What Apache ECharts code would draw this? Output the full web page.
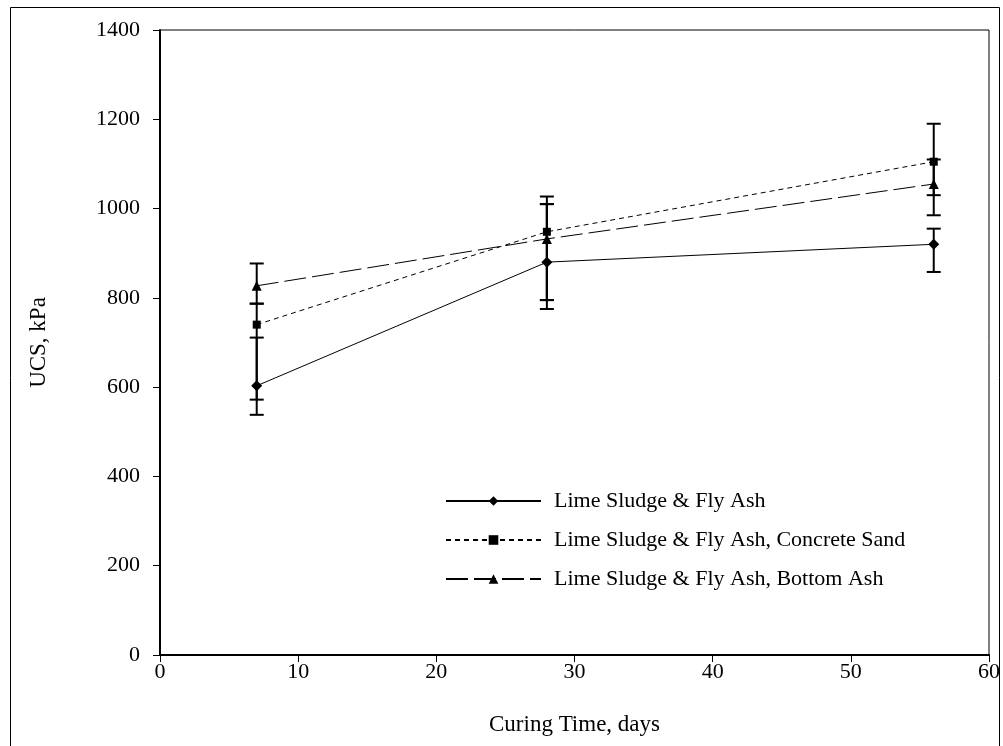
<!DOCTYPE html>
<html>
<head>
<meta charset="utf-8">
<script src="https://cdn.jsdelivr.net/npm/echarts@6/dist/echarts.min.js"></script>
<style>
html,body{margin:0;padding:0;background:#fff;}
#c{width:1003px;height:746px;}
</style>
</head>
<body>
<div id="c"></div>
<script>
// ---- data ----
var curingDays = [7, 28, 56];
var seriesNames = [
  'Lime Sludge & Fly Ash',
  'Lime Sludge & Fly Ash, Concrete Sand',
  'Lime Sludge & Fly Ash, Bottom Ash'
];
var ucsFlyAsh      = [603, 880, 920];
var ucsConcrete    = [740, 948, 1105];
var ucsBottomAsh   = [827, 932, 1055];
// error bar ranges [low, high]
var errFlyAsh      = [[538, 711], [775, 1010], [858, 955]];
var errConcrete    = [[572, 787], [795, 1027], [1030, 1190]];
var errBottomAsh   = [[787, 877], [795, 1010], [985, 1110]];
var yTicks = {min: 0, max: 1400, interval: 200};
var xTicks = {min: 0, max: 60, interval: 10};

function pairs(xs, ys) { return xs.map(function (x, i) { return [x, ys[i]]; }); }
function errData(xs, e) { return xs.map(function (x, i) { return [x, e[i][0], e[i][1]]; }); }

var FONT = '"Liberation Serif", "Times New Roman", serif';

function errSeries(name, data) {
  return {
    type: 'custom',
    name: name + ' err',
    data: data,
    z: 1,
    silent: true,
    renderItem: function (params, api) {
      var x = api.value(0);
      var lo = api.coord([x, api.value(1)]);
      var hi = api.coord([x, api.value(2)]);
      var w = 7;
      var st = {stroke: '#000', lineWidth: 2};
      return {
        type: 'group',
        children: [
          {type: 'line', shape: {x1: lo[0], y1: lo[1], x2: hi[0], y2: hi[1]}, style: st},
          {type: 'line', shape: {x1: lo[0] - w, y1: lo[1], x2: lo[0] + w, y2: lo[1]}, style: st},
          {type: 'line', shape: {x1: hi[0] - w, y1: hi[1], x2: hi[0] + w, y2: hi[1]}, style: st}
        ]
      };
    }
  };
}

var chart = echarts.init(document.getElementById('c'), null, {renderer: 'canvas'});
chart.setOption({
  backgroundColor: '#fff',
  animation: false,
  textStyle: {fontFamily: FONT, color: '#000'},
  graphic: [{
    type: 'rect',
    shape: {x: 10.5, y: 7.5, width: 989, height: 760},
    style: {fill: 'none', stroke: '#000', lineWidth: 1},
    silent: true
  }],
  grid: {
    left: 160, top: 30, right: 14, bottom: 91,
    show: true, borderColor: '#000', borderWidth: 1, backgroundColor: 'transparent'
  },
  legend: {
    orient: 'vertical',
    left: 440, top: 485,
    itemWidth: 95, itemHeight: 12, itemGap: 17,
    textStyle: {fontFamily: FONT, fontSize: 22, color: '#000', padding: [0, 0, 0, 8]},
    data: seriesNames
  },
  xAxis: {
    type: 'value', min: xTicks.min, max: xTicks.max, interval: xTicks.interval,
    name: 'Curing Time, days', nameLocation: 'middle', nameGap: 58,
    nameTextStyle: {fontFamily: FONT, fontSize: 23, color: '#000'},
    axisLine: {lineStyle: {color: '#000', width: 2}},
    axisTick: {show: true, length: 7, lineStyle: {color: '#000', width: 1}},
    axisLabel: {fontFamily: FONT, fontSize: 22, color: '#000', margin: 6},
    splitLine: {show: false}
  },
  yAxis: {
    type: 'value', min: yTicks.min, max: yTicks.max, interval: yTicks.interval,
    name: 'UCS, kPa', nameLocation: 'middle', nameGap: 110, nameRotate: 90,
    nameTextStyle: {fontFamily: FONT, fontSize: 23, color: '#000'},
    axisLine: {show: true, lineStyle: {color: '#000', width: 2}},
    axisTick: {show: true, length: 7, lineStyle: {color: '#000', width: 1}},
    axisLabel: {fontFamily: FONT, fontSize: 22, color: '#000', margin: 20,
      formatter: function (v) { return String(v); }},
    splitLine: {show: false}
  },
  series: [
    errSeries(seriesNames[0], errData(curingDays, errFlyAsh)),
    errSeries(seriesNames[1], errData(curingDays, errConcrete)),
    errSeries(seriesNames[2], errData(curingDays, errBottomAsh)),
    {
      type: 'line', name: seriesNames[0], data: pairs(curingDays, ucsFlyAsh),
      symbol: 'diamond', symbolSize: 11, z: 3,
      itemStyle: {color: '#000'},
      lineStyle: {color: '#000', width: 1, type: 'solid'}
    },
    {
      type: 'line', name: seriesNames[1], data: pairs(curingDays, ucsConcrete),
      symbol: 'rect', symbolSize: 8, z: 3,
      itemStyle: {color: '#000'},
      lineStyle: {color: '#000', width: 1, type: [5, 4]}
    },
    {
      type: 'line', name: seriesNames[2], data: pairs(curingDays, ucsBottomAsh),
      symbol: 'triangle', symbolSize: 10, z: 3,
      itemStyle: {color: '#000'},
      lineStyle: {color: '#000', width: 1, type: [22, 6]}
    }
  ]
});
</script>
</body>
</html>
